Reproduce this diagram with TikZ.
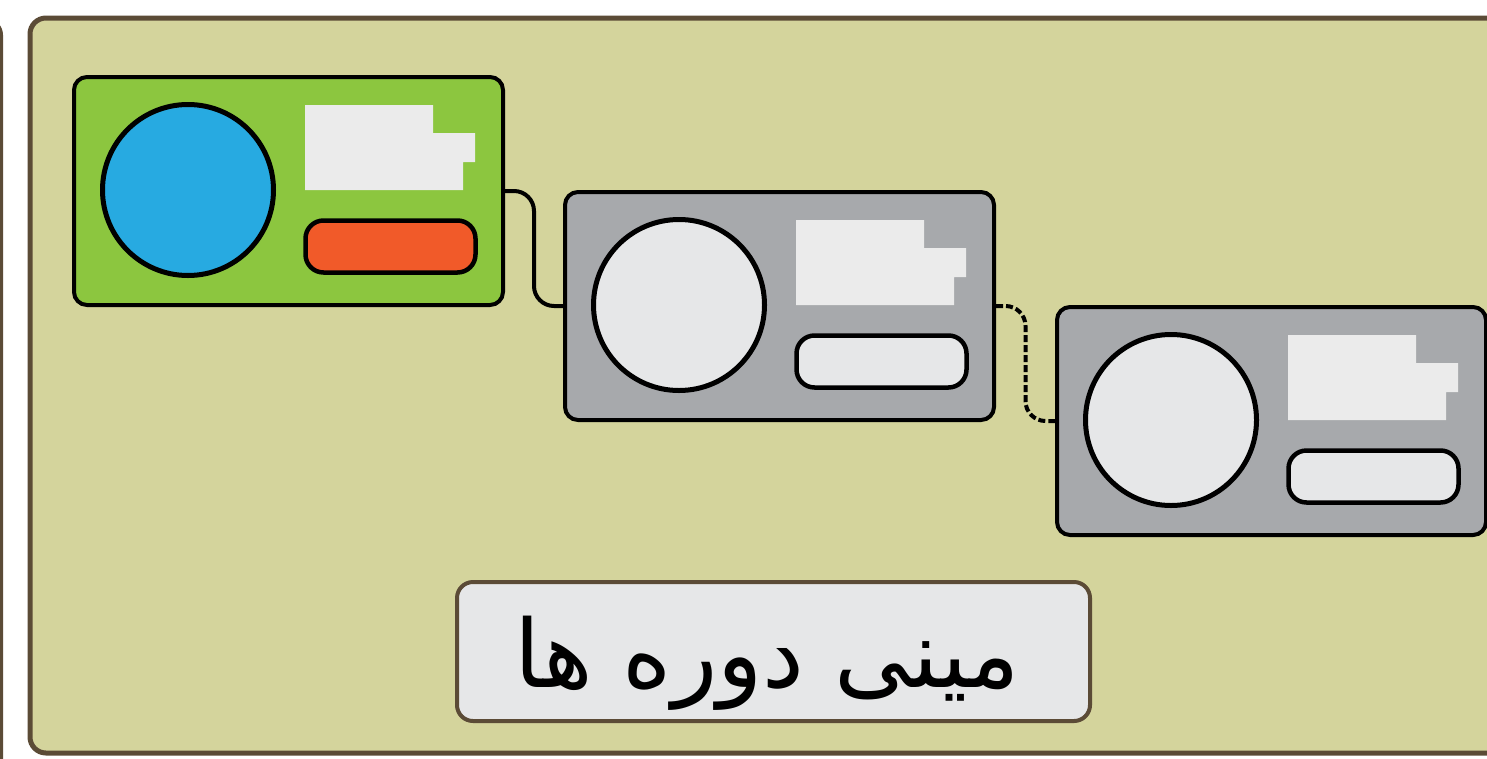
\documentclass[tikz,border=0pt]{standalone}
\usepackage{fontspec}
\newfontfamily\arabicfont[Script=Arabic]{DejaVu Sans}
\TeXXeTstate=1
\usetikzlibrary{calc}
\definecolor{panelbg}{HTML}{D4D49C}
\definecolor{panelline}{HTML}{5B4B36}
\definecolor{cardgreen}{HTML}{8CC63F}
\definecolor{cardgray}{HTML}{A7A9AC}
\definecolor{lightfill}{HTML}{E6E7E8}
\definecolor{blockfill}{HTML}{EBEBEB}
\definecolor{bluefill}{HTML}{27AAE1}
\definecolor{orangefill}{HTML}{F15A29}
\begin{document}
\begin{tikzpicture}[x=1pt,y=-1pt,
  cardbox/.style={draw=black,line width=4pt,rounded corners=13pt,minimum width=429pt,minimum height=228pt,inner sep=0pt},
  avatar/.style={circle,draw=black,line width=5pt,minimum size=171pt,inner sep=0pt},
  pill/.style={draw=black,line width=4.5pt,rounded corners=18pt,minimum width=170pt,minimum height=52pt,inner sep=0pt},
  block/.style={fill=blockfill,draw=none},
  link/.style={draw=black,line width=4pt,rounded corners=20pt},
  labelbox/.style={draw=panelline,fill=lightfill,line width=4pt,rounded corners=16pt,minimum width=633pt,minimum height=139pt,inner sep=0pt}
]
\useasboundingbox (0,0) rectangle (1487,758);
\clip (0,0) rectangle (1487,758);
% neighbouring panel sliver
\draw[panelline,line width=4pt,fill=white,rounded corners=15pt] (-200,20) rectangle (1,900);
% main panel
\draw[panelline,line width=5pt,fill=panelbg,rounded corners=16pt] (30,18) rectangle (1560,753);
% cards
\node[cardbox,fill=cardgreen] (c1) at (288.5,191) {};
\node[cardbox,fill=cardgray] (c2) at (779.5,306) {};
\node[cardbox,fill=cardgray] (c3) at (1271.5,421) {};
\foreach \c/\cf/\pf in {c1/bluefill/orangefill, c2/lightfill/lightfill, c3/lightfill/lightfill}{
  \node[avatar,fill=\cf] (\c a) at ($(\c.center)+(-100.5,-1)$) {};
  \node[pill,fill=\pf] (\c p) at ($(\c.center)+(102,55.5)$) {};
  \fill[block,shift={(\c.center)}] (16.5,-86) -- (144.5,-86) -- (144.5,-58) -- (186.5,-58) -- (186.5,-29) -- (174.5,-29) -- (174.5,-1) -- (16.5,-1) -- cycle;
}
% connectors
\draw[link] (c1.east) -| ($(c1.east)!0.5!(c2.west)$) |- (c2.west);
\draw[link,dash pattern=on 7pt off 3pt] (c2.east) -| ($(c2.east)!0.5!(c3.west)$) |- (c3.west);
% label
\node[labelbox] (lbl) at (773.5,651.5) {};
\node[font=\arabicfont\fontsize{94}{110}\selectfont] (lbltext) at ($(lbl.center)+(-6,12)$) {\beginR مینی دوره ها\endR};
\end{tikzpicture}
\end{document}
